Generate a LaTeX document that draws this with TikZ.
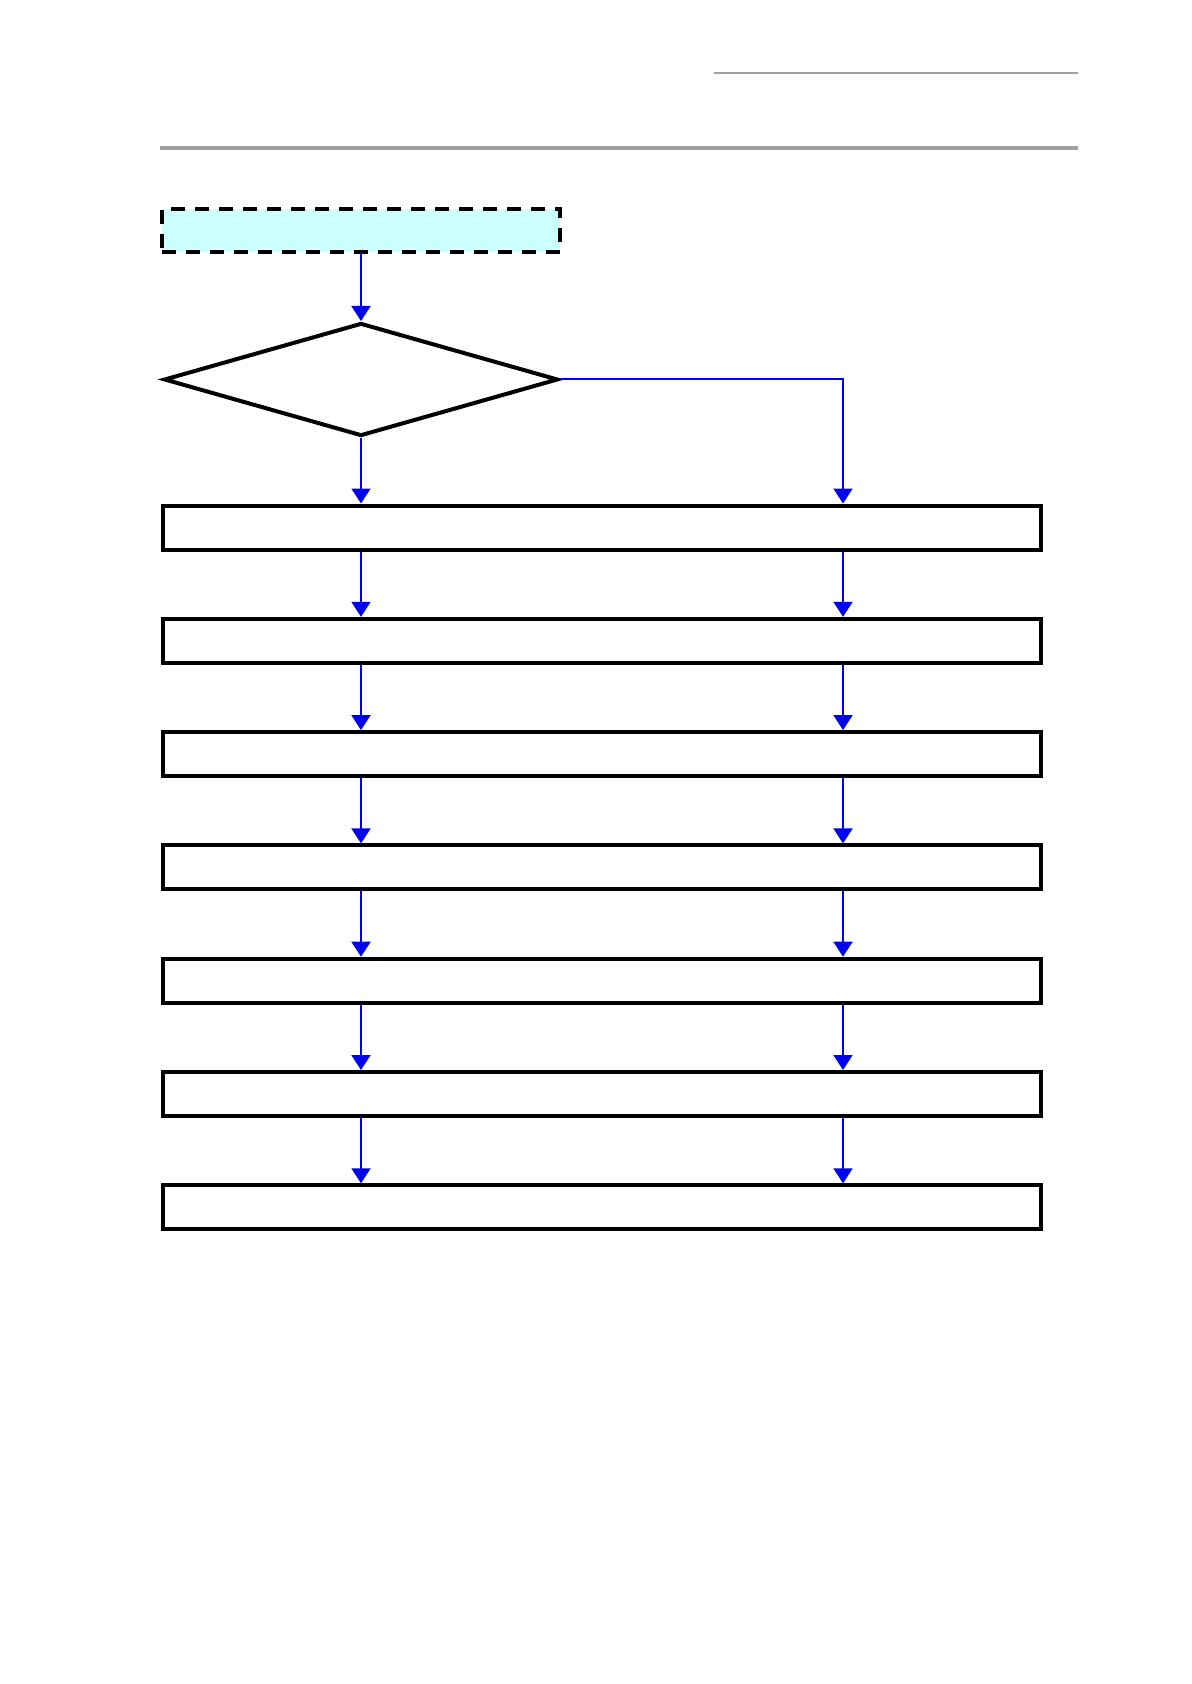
\documentclass[tikz,border=0pt]{standalone}
\definecolor{rulegray}{RGB}{160,160,160}
\definecolor{startcyan}{RGB}{204,255,255}
\definecolor{flowblue}{RGB}{0,0,240}
\usepackage{tikz}
\usetikzlibrary{shapes,arrows.meta,positioning,calc}

\begin{document}
\begin{tikzpicture}[x=0.5pt,y=-0.5pt,
    stagebox/.style={draw,line width=2pt,minimum width=439pt,minimum height=22pt,inner sep=0pt},
    flow/.style={draw=flowblue,line width=1pt,-{Triangle[length=7.5pt,width=9.5pt]}}]
                \useasboundingbox (0,0) rectangle (1191,1684);
                \draw[rulegray,line width=1pt] (714,73) -- (1078,73);
                \draw[rulegray,line width=2pt] (160,148) -- (1078,148);
                \coordinate (lcol) at (361,0);
                \coordinate (rcol) at (843,0);
                \node[draw,line width=2pt,dash pattern=on 7pt off 5pt,fill=startcyan,
                    minimum width=199pt,minimum height=21.5pt,inner sep=0pt] (start) at (361,230.5) {};
                \node[diamond,draw,line width=2pt,minimum width=197pt,minimum height=56.5pt,
                    inner sep=0pt] (check) at (361,379.5) {};
                \foreach \i in {1,...,7}
                    \node[stagebox] (b\i) at (602,{527.5+113.3*(\i-1)}) {};
                \draw[flow] (start) -- (check);
                \draw[flow] (check.south) -- (b1.north -| lcol);
                \draw[flow] (check.east) -| (b1.north -| rcol);
                \foreach \i [evaluate=\i as \j using int(\i+1)] in {1,...,6} {
                    \draw[flow] (b\i.south -| lcol) -- (b\j.north -| lcol);
                    \draw[flow] (b\i.south -| rcol) -- (b\j.north -| rcol);
                }
            \end{tikzpicture}
\end{document}
